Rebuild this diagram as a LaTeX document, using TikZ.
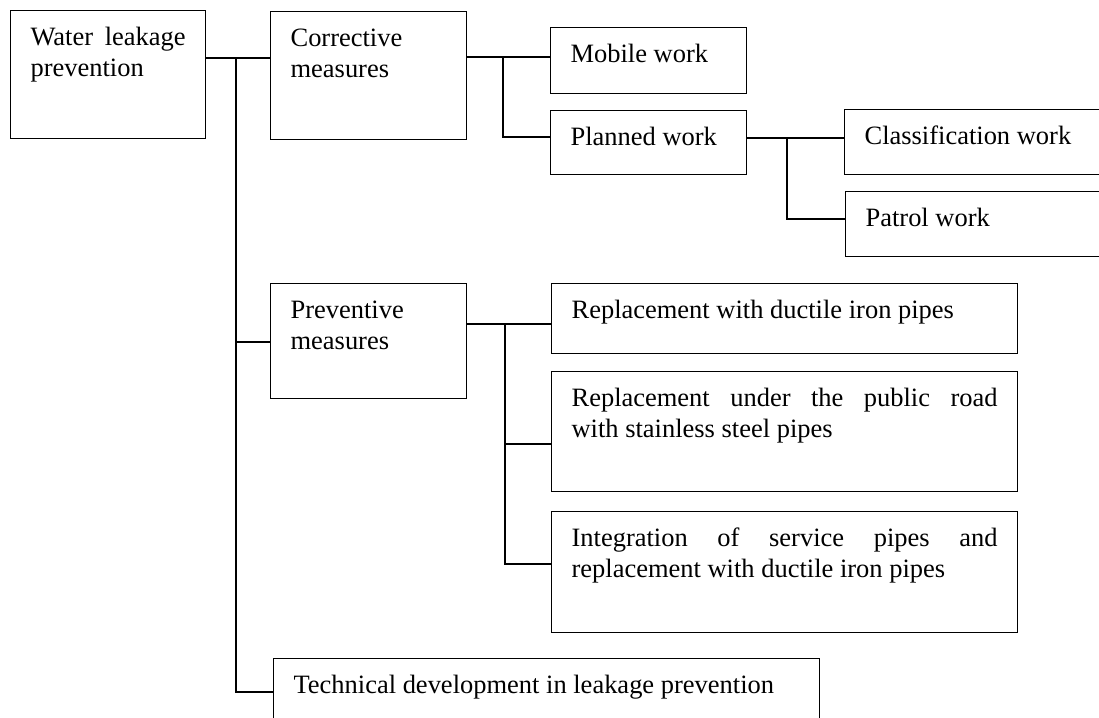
\documentclass[tikz,border=0pt]{standalone}
\usepackage{fontspec}
\setmainfont{Liberation Serif}
\usepackage{tikz}
\usetikzlibrary{positioning, calc}

\begin{document}
\begin{tikzpicture}[
    x=0.03cm, y=-0.03cm,
    box/.style 2 args={draw, line width=1pt, anchor=north west, inner xsep=0.6cm, inner ysep=0pt,
        align=justify, text width={(#1-40)*0.03cm}, text height=1.05cm, text depth={(#2-35)*0.03cm},
        font=\fontsize{22.6}{26.4}\selectfont},
    link/.style={line width=1pt},
]

\clip (0,0) rectangle (1099,717);

% first level
\node[box={195}{128}] (root) at (10,10) {Water leakage\linebreak prevention};
\node[box={196}{128}] (corr) at (270,11) {Corrective\\measures};
\node[box={196}{115}] (prev) at (270,283) {Preventive\\measures};
\node[box={546}{100}] (tech) at (273,658) {Technical development in leakage prevention};

% corrective measures
\node[box={196}{66}] (mob) at (550,27) {Mobile work};
\node[box={196}{64}] (plan) at (550,110) {Planned work};
\node[box={400}{65}] (cls) at (844,109) {Classification work};
\node[box={400}{65}] (pat) at (845,191) {Patrol work};

% preventive measures
\node[box={466}{70}] (rep1) at (551,283) {Replacement with ductile iron pipes};
\node[box={466}{120}] (rep2) at (551,371) {Replacement under the public road\linebreak with stainless steel pipes};
\node[box={466}{121}] (rep3) at (551,511) {Integration of service pipes and\linebreak replacement with ductile iron pipes};

% junctions
\coordinate (t0) at (236,58);
\coordinate (t1) at (236,692);
\coordinate (b1) at (503,57);
\coordinate (b2) at (787,138);
\coordinate (b3) at (505,324);

\draw[link] (root.east |- t0) -- (corr.west |- t0);
\draw[link] (t0) -- (t1) -- (tech.west |- t1);
\draw[link] (t0 |- 0,342) -- (prev.west |- 0,342);

\draw[link] (corr.east |- b1) -- (mob.west |- b1);
\draw[link] (b1) |- (plan.west |- 0,137);

\draw[link] (plan.east |- b2) -- (cls.west |- b2);
\draw[link] (b2) |- (pat.west |- 0,219);

\draw[link] (prev.east |- b3) -- (rep1.west |- b3);
\draw[link] (b3) |- (rep2.west |- 0,444);
\draw[link] (b3) |- (rep3.west |- 0,564);

\end{tikzpicture}
\end{document}
